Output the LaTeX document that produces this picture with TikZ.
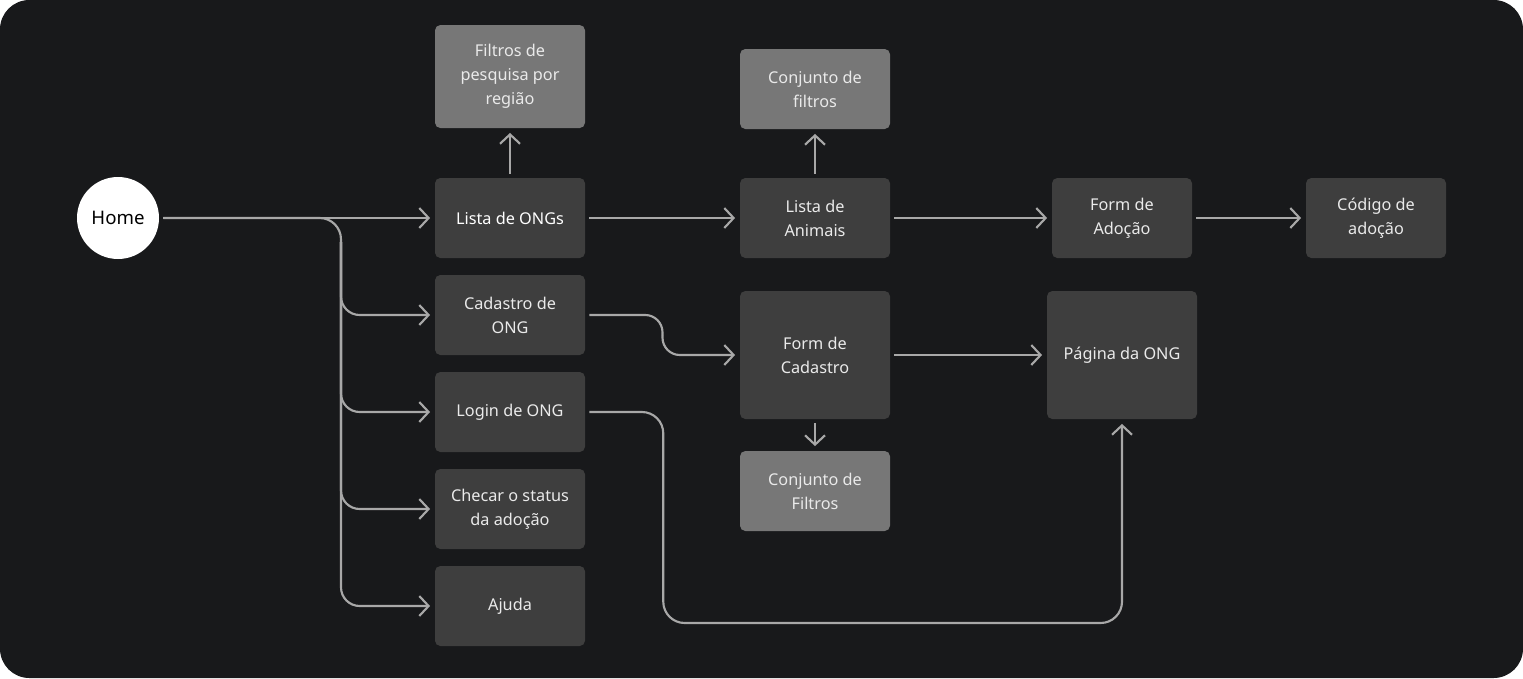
\documentclass[tikz,border=0pt]{standalone}
\usepackage{fontspec}
\setmainfont{Noto Sans}
\usetikzlibrary{positioning, arrows.meta, calc}

\definecolor{canvas}{HTML}{18191B}
\definecolor{boxdark}{HTML}{3E3E3E}
\definecolor{boxlight}{HTML}{777777}
\definecolor{wire}{HTML}{A8A8A8}
\definecolor{boxtext}{HTML}{EAEAEA}

\tikzset{
    screen/.style={rectangle, rounded corners=4pt, fill=boxdark, text=boxtext,
        minimum width=112.5pt, minimum height=60pt, inner sep=2pt, align=center,
        font=\fontsize{12.2}{18}\selectfont},
    filterbox/.style={screen, fill=boxlight},
    homenode/.style={circle, fill=white, text=black, minimum size=61.5pt,
        inner sep=0pt, font=\fontsize{14}{16}\selectfont},
    wireline/.style={draw=wire, line width=1.6pt},
    link/.style={wireline, -{Straight Barb[length=7pt, width=15pt]},
        shorten >=3.5pt, shorten <=3pt},
}

\begin{document}
\begin{tikzpicture}[node distance=72.75pt, on grid]
    % Define background
    \fill[canvas, rounded corners=22pt] (0,0) rectangle (1142.25pt,-508.5pt);
    \useasboundingbox (0,0) rectangle (1142.25pt,-508.5pt);

    % Define screens
    \node[homenode] (home) at (88.5pt,-163.5pt) {Home};
    \node[screen, text=white] (ongs) [right=294pt of home] {Lista de ONGs};
    \node[filterbox, minimum height=77.25pt] (regiao) [above=106.1pt of ongs] {Filtros de\\pesquisa por\\região};
    \node[screen] (cadong) [below=of ongs] {Cadastro de\\ONG};
    \node[screen] (login) [below=of cadong] {Login de ONG};
    \node[screen] (status) [below=of login] {Checar o status\\da adoção};
    \node[screen] (ajuda) [below=of status] {Ajuda};
    \node[screen] (animais) [right=228.75pt of ongs] {Lista de\\Animais};
    \node[filterbox] (filtros) [above=96.75pt of animais] {Conjunto de\\filtros};
    \node[screen, minimum height=96pt] (formcad) [below=102.75pt of animais] {Form de\\Cadastro};
    \node[filterbox] (filtrosb) [below=102pt of formcad] {Conjunto de\\Filtros};
    \node[screen, minimum width=105pt] (formad) [right=230.25pt of animais] {Form de\\Adoção};
    \node[screen, minimum width=105pt] (codigo) [right=190.5pt of formad] {Código de\\adoção};
    \node[screen, minimum height=96pt] (pagina) [below=102.75pt of formad] {Página da ONG};
    \coordinate[right=167.25pt of home] (trunk);
    \coordinate[below=18pt of trunk] (drop);
    \coordinate[below right=12.75pt and 58.5pt of ajuda.east] (bend);
    \coordinate (step) at ($(cadong.east)!0.5!(formcad.west)$);

    % Define connectors
    \path[link]
    (home) edge (ongs)
    (ongs) edge (regiao)
        (ongs) edge (animais)
    (animais) edge (filtros)
        (animais) edge (formad)
    (formad) edge (codigo)
    (formcad) edge (pagina)
        (formcad) edge (filtrosb);

    \draw[wireline, shorten <=3pt, rounded corners=16pt] (home.east) -- (trunk) -- (drop);
    \draw[link, shorten <=0pt, rounded corners=14pt] (drop) |- (cadong.west);
    \draw[link, shorten <=0pt, rounded corners=14pt] (drop) |- (login.west);
    \draw[link, shorten <=0pt, rounded corners=14pt] (drop) |- (status.west);
    \draw[link, shorten <=0pt, rounded corners=14pt] (drop) |- (ajuda.west);
    \draw[wireline, shorten <=3pt, rounded corners=13pt] (cadong.east) -| (step);
    \draw[link, shorten <=0pt, rounded corners=13pt] (step) |- (formcad.west);
    \draw[link, rounded corners=16pt] (login.east) -| (bend) -| (pagina.south);
\end{tikzpicture}
\end{document}
